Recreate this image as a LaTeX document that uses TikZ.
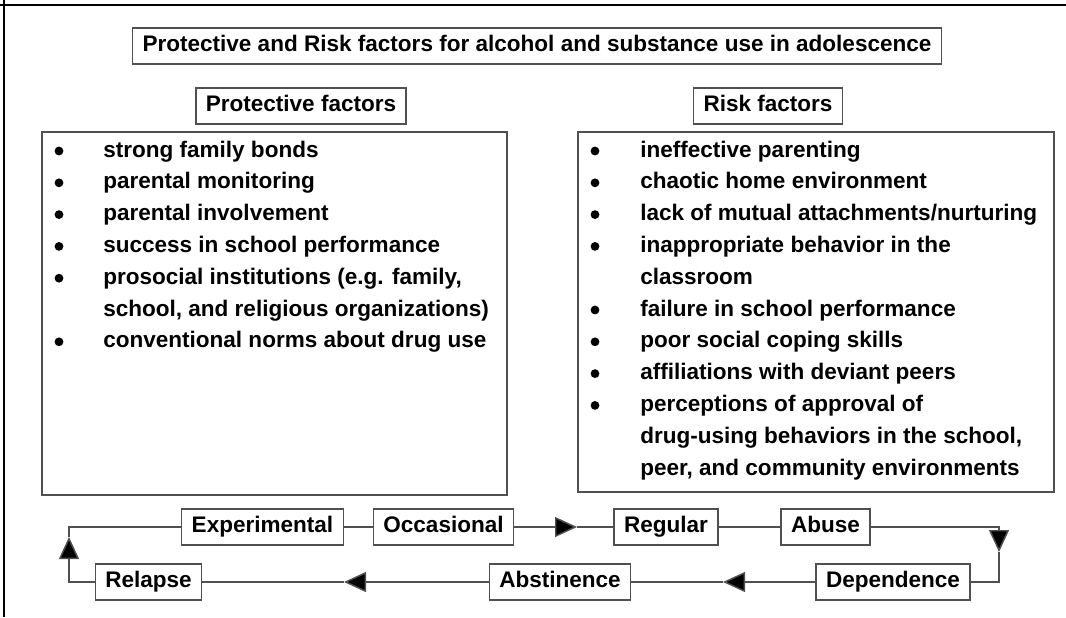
\documentclass[tikz,border=0pt]{standalone}
\usepackage{fontspec}
\setmainfont{Liberation Sans}
\usetikzlibrary{arrows.meta}
\definecolor{boxgray}{RGB}{80,80,80}
\begin{document}
\begin{tikzpicture}[x=0.75pt,y=-0.75pt,
  font=\fontsize{16.9}{20}\selectfont\bfseries,
  box/.style={draw=boxgray, line width=1.1pt, fill=white, inner xsep=7.5pt, inner ysep=0pt,
    minimum height=27pt, text height=12pt, text depth=3.5pt},
  listbox/.style={draw=boxgray, line width=1.1pt},
  conn/.style={draw=boxgray, line width=1.1pt},
  tri/.tip={Triangle[length=16.5pt, width=15pt]},
  arr/.style={conn, -{tri[fill=black]}},
  bul/.style={circle, fill=black, inner sep=0pt, minimum width=6.6pt, minimum height=6pt},
  item/.style={anchor=base west, inner sep=0pt}]
\useasboundingbox (0,0) rectangle (1066,617);
% outer frame (top and left)
\draw[line width=1.6pt] (0,5) -- (1066,5);
\draw[line width=1.6pt] (4,0) -- (4,617);

% title and headers
\node[box, minimum width=604.5pt] (title) at (537,46) {Protective and Risk factors for alcohol and substance use in adolescence};
\node[box] (prothead) at (301,106) {Protective factors};
\node[box] (riskhead) at (768,106) {Risk factors};

% list boxes
\draw[listbox] (42,132) rectangle (507,495);
\draw[listbox] (578,132) rectangle (1054,492);

% protective list
\node[bul] (pb1) at (59,151.0) {};
\node[bul] (pb2) at (59,182.8) {};
\node[bul] (pb3) at (59,214.6) {};
\node[bul] (pb4) at (59,246.4) {};
\node[bul] (pb5) at (59,278.2) {};
\node[bul] (pb7) at (59,341.8) {};
\node[item] (pt1) at (103,157.0) {strong family bonds};
\node[item] (pt2) at (103,188.8) {parental monitoring};
\node[item] (pt3) at (103,220.6) {parental involvement};
\node[item] (pt4) at (103,252.4) {success in school performance};
\node[item] (pt5) at (103,284.2) {prosocial institutions (e.g. family,};
\node[item] (pt6) at (103,316.0) {school, and religious organizations)};
\node[item] (pt7) at (103,347.8) {conventional norms about drug use};

% risk list
\node[bul] (rb1) at (595,151.0) {};
\node[bul] (rb2) at (595,182.8) {};
\node[bul] (rb3) at (595,214.6) {};
\node[bul] (rb4) at (595,246.4) {};
\node[bul] (rb6) at (595,310.0) {};
\node[bul] (rb7) at (595,341.8) {};
\node[bul] (rb8) at (595,373.6) {};
\node[bul] (rb9) at (595,405.4) {};
\node[item] (rt1) at (640,157.0) {ineffective parenting};
\node[item] (rt2) at (640,188.8) {chaotic home environment};
\node[item] (rt3) at (640,220.6) {lack of mutual attachments/nurturing};
\node[item] (rt4) at (640,252.4) {inappropriate behavior in the};
\node[item] (rt5) at (640,284.2) {classroom};
\node[item] (rt6) at (640,316.0) {failure in school performance};
\node[item] (rt7) at (640,347.8) {poor social coping skills};
\node[item] (rt8) at (640,379.6) {affiliations with deviant peers};
\node[item] (rt9) at (640,411.4) {perceptions of approval of};
\node[item] (rt10) at (640,443.2) {drug-using behaviors in the school,};
\node[item] (rt11) at (640,475.0) {peer, and community environments};

% cycle
\node[box] (exp) at (262.5,527) {Experimental};
\node[box] (occ) at (443.5,527) {Occasional};
\node[box] (reg) at (666,527) {Regular};
\node[box] (abu) at (825.5,527) {Abuse};
\node[box] (rel) at (148.5,582) {Relapse};
\node[box] (abst) at (560,582) {Abstinence};
\node[box] (dep) at (893,582) {Dependence};

\coordinate (a1) at (577,527);
\coordinate (rtop) at (999,527);
\coordinate (a2) at (999,552);
\coordinate (rbot) at (999,582);
\coordinate (a3) at (723,582);
\coordinate (a4) at (344,582);
\coordinate (lbot) at (69,582);
\coordinate (a5) at (69,537);
\coordinate (ltop) at (69,527);

\draw[conn] (exp) -- (occ);
\draw[arr] (occ) -- (a1);
\draw[conn] (a1) -- (reg);
\draw[conn] (reg) -- (abu);
\draw[arr] (abu) -- (rtop) -- (a2);
\draw[conn] (a2) -- (rbot) -- (dep);
\draw[arr] (dep) -- (a3);
\draw[conn] (a3) -- (abst);
\draw[arr] (abst) -- (a4);
\draw[conn] (a4) -- (rel);
\draw[arr] (rel) -- (lbot) -- (a5);
\draw[conn] (a5) -- (ltop) -- (exp);
\end{tikzpicture}
\end{document}
